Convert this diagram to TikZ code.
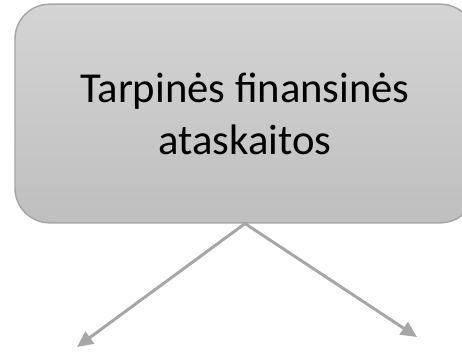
\documentclass[tikz,border=0pt]{standalone}
\usepackage{fontspec}
\setmainfont{Carlito}
\usepackage{xcolor}
\usepackage{tikz}
\usetikzlibrary{arrows.meta}
\definecolor{boxtop}{HTML}{D4D4D4}
\definecolor{boxbottom}{HTML}{BFBFBF}
\definecolor{edge}{HTML}{A6A6A6}
\definecolor{ink}{HTML}{000000}
\tikzset{
  box/.style={
    draw=edge, line width=1.1pt,
    top color=boxtop, bottom color=boxbottom,
    rounded corners=26pt,
    minimum width=345pt, minimum height=164pt,
    align=center, text=ink,
    font=\fontsize{32}{39}\selectfont
  },
  link/.style={
    draw=edge, line width=2.2pt,
    -{Triangle[length=12pt,width=11pt]}
  }
}
\begin{document}
\begin{tikzpicture}[x=0.75pt,y=-0.75pt]
  % page frame; the box runs past the right edge
  \clip (0,0) rectangle (462,353);

  \node[box] (report) at (245,113.5) {Tarpinės finansinės\\ataskaitos};

  \coordinate (leftend)  at (77,347);
  \coordinate (rightend) at (417,337);

  \draw[link] (report.south) -- (leftend);
  \draw[link] (report.south) -- (rightend);
\end{tikzpicture}
\end{document}
